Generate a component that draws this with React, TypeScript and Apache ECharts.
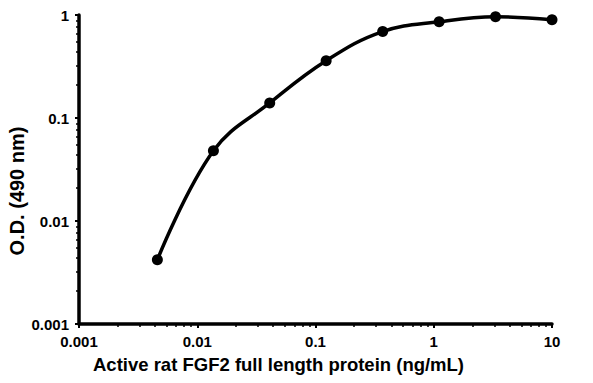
import React, { useEffect, useRef } from "react";
import * as echarts from "echarts";

const concentrations = [0.0046, 0.0137, 0.041, 0.123, 0.37, 1.11, 3.33, 10];
const odValues = [0.0042, 0.048, 0.14, 0.36, 0.69, 0.86, 0.96, 0.9];
const xTickLabels = ["0.001", "0.01", "0.1", "1", "10"];
const yTickLabels = ["0.001", "0.01", "0.1", "1"];
const xTitle = "Active rat FGF2 full length protein (ng/mL)";
const yTitle = "O.D. (490 nm)";

const FONT = "'Liberation Sans', Arial, sans-serif";

function pickLabel(labels: string[], v: number) {
  for (const l of labels) {
    if (Math.abs(Math.log10(Number(l)) - Math.log10(v)) < 0.01) return l;
  }
  return "";
}

export default function App() {
  const ref = useRef<HTMLDivElement>(null);
  useEffect(() => {
    if (!ref.current) return;
    const chart = echarts.init(ref.current, undefined, { renderer: "svg" });
    const axisCommon = {
      axisLine: { show: true, lineStyle: { color: "#000", width: 3.5 } },
      axisTick: { show: true, length: 4, lineStyle: { color: "#000", width: 2 } },
      minorTick: { show: true, splitNumber: 8, length: 3, lineStyle: { color: "#000", width: 1.5 } },
      splitLine: { show: false },
      minorSplitLine: { show: false },
    };
    chart.setOption({
      animation: false,
      backgroundColor: "#fff",
      grid: { left: 79, right: 41, top: 15, bottom: 59, containLabel: false },
      xAxis: {
        type: "log",
        logBase: 10,
        min: 0.001,
        max: 10,
        ...axisCommon,
        axisLabel: {
          margin: 10,
          color: "#000",
          fontFamily: FONT,
          fontWeight: "bold",
          fontSize: 15,
          formatter: (v: number) => pickLabel(xTickLabels, v),
        },
      },
      yAxis: {
        type: "log",
        logBase: 10,
        min: 0.001,
        max: 1,
        ...axisCommon,
        axisLabel: {
          margin: 10,
          color: "#000",
          fontFamily: FONT,
          fontWeight: "bold",
          fontSize: 15,
          formatter: (v: number) => pickLabel(yTickLabels, v),
        },
      },
      series: [
        {
          type: "line",
          data: concentrations.map((c, i) => [c, odValues[i]]),
          smooth: 0.4,
          symbol: "circle",
          symbolSize: 11,
          itemStyle: { color: "#000" },
          lineStyle: { color: "#000", width: 3.5 },
        },
      ],
      graphic: [
        {
          type: "text",
          left: 93,
          top: 355,
          style: {
            text: xTitle,
            fill: "#000",
            font: `bold 18.5px ${FONT}`,
          },
        },
        {
          type: "text",
          x: 17,
          y: 191,
          rotation: Math.PI / 2,
          style: {
            text: yTitle,
            fill: "#000",
            font: `bold 20px ${FONT}`,
            align: "center",
            verticalAlign: "middle",
          },
        },
      ],
    });
    return () => chart.dispose();
  }, []);
  return <div ref={ref} style={{ width: 593, height: 383, position: "absolute", left: 0, top: 0 }} />;
}
